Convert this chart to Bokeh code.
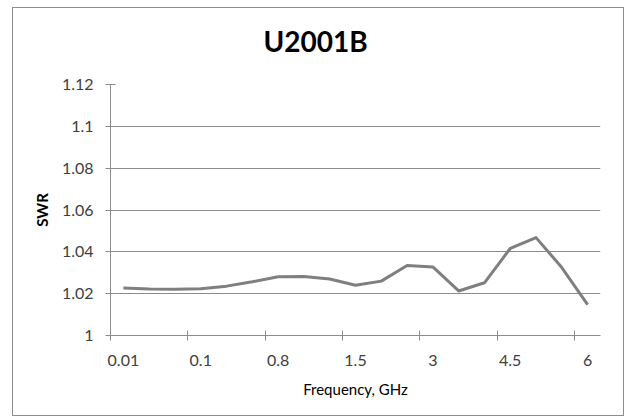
from bokeh.plotting import figure
from bokeh.models import Range1d, FixedTicker, NumeralTickFormatter, ColumnDataSource, Title
from bokeh.embed import file_html
from bokeh.resources import INLINE

# Data
freq_ghz = ["0.01", "0.03", "0.05", "0.1", "0.3", "0.5", "0.8", "1", "1.2", "1.5",
            "2", "2.5", "3", "3.5", "4", "4.5", "5", "5.5", "6"]
swr = [1.0227, 1.0222, 1.0221, 1.0224, 1.0236, 1.0257, 1.0281, 1.0282, 1.0270, 1.0240,
       1.0260, 1.0335, 1.0328, 1.0213, 1.0252, 1.0416, 1.0468, 1.0325, 1.0148]
labeled = ["0.01", "0.1", "0.8", "1.5", "3", "4.5", "6"]
y_ticks = [1.0, 1.02, 1.04, 1.06, 1.08, 1.1, 1.12]
chart_title = "U2001B"

idx = list(range(len(freq_ghz)))
src = ColumnDataSource(dict(x=idx, y=swr, f=freq_ghz))

p = figure(width=612, height=409, output_backend="svg", toolbar_location=None,
           x_range=Range1d(-0.5, len(freq_ghz) - 0.5), y_range=Range1d(1.0, 1.12),
           min_border_left=97, min_border_right=25, min_border_top=76, min_border_bottom=82,
           title=chart_title)
p.styles = {"border": "1px solid #8c8c8c", "box-sizing": "border-box",
            "margin-left": "12px", "margin-top": "7px"}

p.title.text_font = "Lato"
p.title.text_font_size = "28px"
p.title.text_font_style = "bold"
p.title.text_color = "#000000"
p.title.align = "left"
p.title.offset = 153
p.title.standoff = 0

# invisible spacer between the title and the plot area
p.add_layout(Title(text=" ", text_font_size="1px", standoff=24), "above")

p.outline_line_color = None
p.background_fill_color = "white"
p.border_fill_color = "white"

# grid
p.xgrid.grid_line_color = None
p.ygrid.grid_line_color = "#8c8c8c"
p.ygrid.grid_line_width = 1

# y axis
p.yaxis.ticker = FixedTicker(ticks=y_ticks)
p.yaxis.formatter = NumeralTickFormatter(format="0.[00]")
p.yaxis.axis_line_color = "#8c8c8c"
p.yaxis.major_tick_line_color = "#8c8c8c"
p.yaxis.major_tick_in = 5
p.yaxis.major_tick_out = 5
p.yaxis.minor_tick_line_color = None
p.yaxis.major_label_text_font = "Lato"
p.yaxis.major_label_text_font_size = "16px"
p.yaxis.major_label_text_color = "#404040"
p.yaxis.major_label_standoff = 12
p.yaxis.axis_label = "SWR"
p.yaxis.axis_label_text_font = "Lato"
p.yaxis.axis_label_text_font_size = "15px"
p.yaxis.axis_label_text_font_style = "bold"
p.yaxis.axis_label_text_color = "#000000"
p.yaxis.axis_label_standoff = 8

# x axis: labels at every third category, tick marks at the category boundaries
label_pos = [freq_ghz.index(l) for l in labeled]
bounds = [i - 0.5 for i in label_pos]
p.xaxis.ticker = FixedTicker(ticks=label_pos, minor_ticks=bounds)
p.xaxis.major_label_overrides = {i: freq_ghz[i] for i in label_pos}
p.xaxis.major_tick_line_color = None
p.xaxis.minor_tick_line_color = "#8c8c8c"
p.xaxis.minor_tick_in = 5
p.xaxis.minor_tick_out = 5
p.xaxis.axis_line_color = "#8c8c8c"
p.xaxis.major_label_text_font = "Lato"
p.xaxis.major_label_text_font_size = "16px"
p.xaxis.major_label_text_color = "#404040"
p.xaxis.major_label_standoff = 13
p.xaxis.axis_label = "Frequency, GHz"
p.xaxis.axis_label_text_font = "Lato"
p.xaxis.axis_label_text_font_size = "15px"
p.xaxis.axis_label_text_font_style = "normal"
p.xaxis.axis_label_text_color = "#000000"
p.xaxis.axis_label_standoff = 11

p.line("x", "y", source=src, line_color="#7f7f7f", line_width=3, line_join="round")

open("out.html", "w").write(file_html(p, INLINE))
